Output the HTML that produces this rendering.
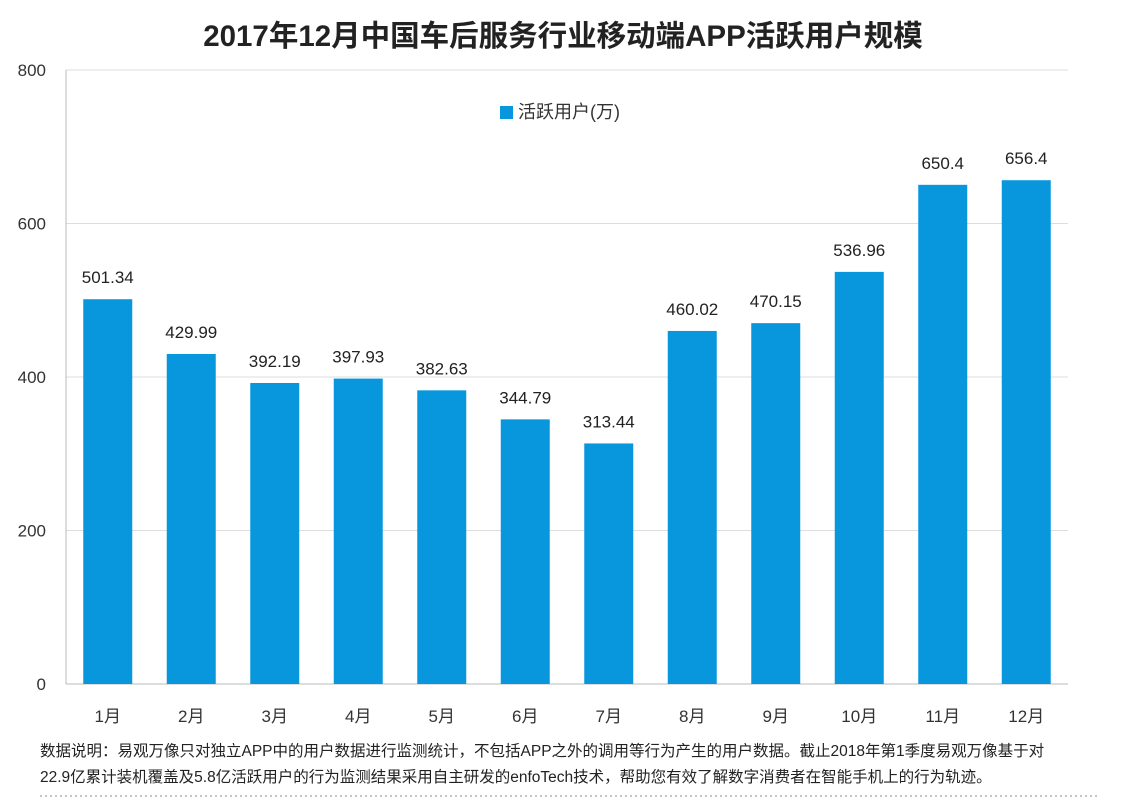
<!DOCTYPE html>
<html><head><meta charset="utf-8"><style>
body{margin:0;background:#fff;width:1136px;height:798px;overflow:hidden;font-family:"Liberation Sans","Noto Sans CJK SC",sans-serif;}
</style></head><body>
<svg width="1136" height="798" xmlns="http://www.w3.org/2000/svg" style="font-family:'Liberation Sans','Noto Sans CJK SC',sans-serif">
<text x="563" y="46" text-anchor="middle" font-size="29.5" font-weight="bold" fill="#222">2017年12月中国车后服务行业移动端APP活跃用户规模</text>
<g id="grid"></g><g id="bars"></g><g id="labels"></g><g id="xt"></g><g id="yt"></g>
<g>
<rect x="500" y="106" width="13" height="13" fill="#0897dd"/>
<text x="518" y="118" font-size="18" fill="#333">活跃用户(万)</text>
</g>
<text x="40" y="756" font-size="15.5" fill="#222">数据说明：易观万像只对独立APP中的用户数据进行监测统计，不包括APP之外的调用等行为产生的用户数据。截止2018年第1季度易观万像基于对</text>
<text x="40" y="782" font-size="15.5" fill="#222">22.9亿累计装机覆盖及5.8亿活跃用户的行为监测结果采用自主研发的enfoTech技术，帮助您有效了解数字消费者在智能手机上的行为轨迹。</text>
<line x1="40" y1="796" x2="1100" y2="796" stroke="#888" stroke-dasharray="2,3"/>
</svg>
<script>
const categories=["1月","2月","3月","4月","5月","6月","7月","8月","9月","10月","11月","12月"];
const values=[501.34,429.99,392.19,397.93,382.63,344.79,313.44,460.02,470.15,536.96,650.4,656.4];
const valueLabels=["501.34","429.99","392.19","397.93","382.63","344.79","313.44","460.02","470.15","536.96","650.4","656.4"];
const yTicks=[0,200,400,600,800];
const NS="http://www.w3.org/2000/svg";
const x0=66,x1=1068,yb=684,yt=70,ymax=800;
const band=(x1-x0)/categories.length,bw=49;
const y=v=>yb-(v/ymax)*(yb-yt);
const xc=i=>x0+band*(i+0.5);
function mk(t,a,p,txt){const e=document.createElementNS(NS,t);for(const k in a)e.setAttribute(k,a[k]);if(txt!=null)e.textContent=txt;p.appendChild(e);return e;}
const g=document.getElementById('grid'),yg=document.getElementById('yt');
yTicks.forEach(v=>{
 const l=mk('line',{x1:x0,x2:x1,y1:y(v),y2:y(v),stroke:v===0?'#bbb':'#ddd'},g);
 
 
 const t=mk('text',{x:46,y:y(v)+6,'text-anchor':'end','font-size':17,fill:'#333'},yg,String(v));
 
 
});
const ax=mk('line',{x1:x0,x2:x0,y1:yt,y2:yb,stroke:'#bbb'},g);


const bg=document.getElementById('bars'),lg=document.getElementById('labels'),xg=document.getElementById('xt');
values.forEach((v,i)=>{
 const r=mk('rect',{x:xc(i)-bw/2,y:y(v),width:bw,height:yb-y(v),fill:'#0897dd'},bg);
 
 
 const t=mk('text',{x:xc(i),y:y(v)-16,'text-anchor':'middle','font-size':17,fill:'#222'},lg,valueLabels[i]);
 
 
 const c=mk('text',{x:xc(i),y:yb+38,'text-anchor':'middle','font-size':17,fill:'#333'},xg,categories[i]);
 
 
});
</script>
</body></html>
